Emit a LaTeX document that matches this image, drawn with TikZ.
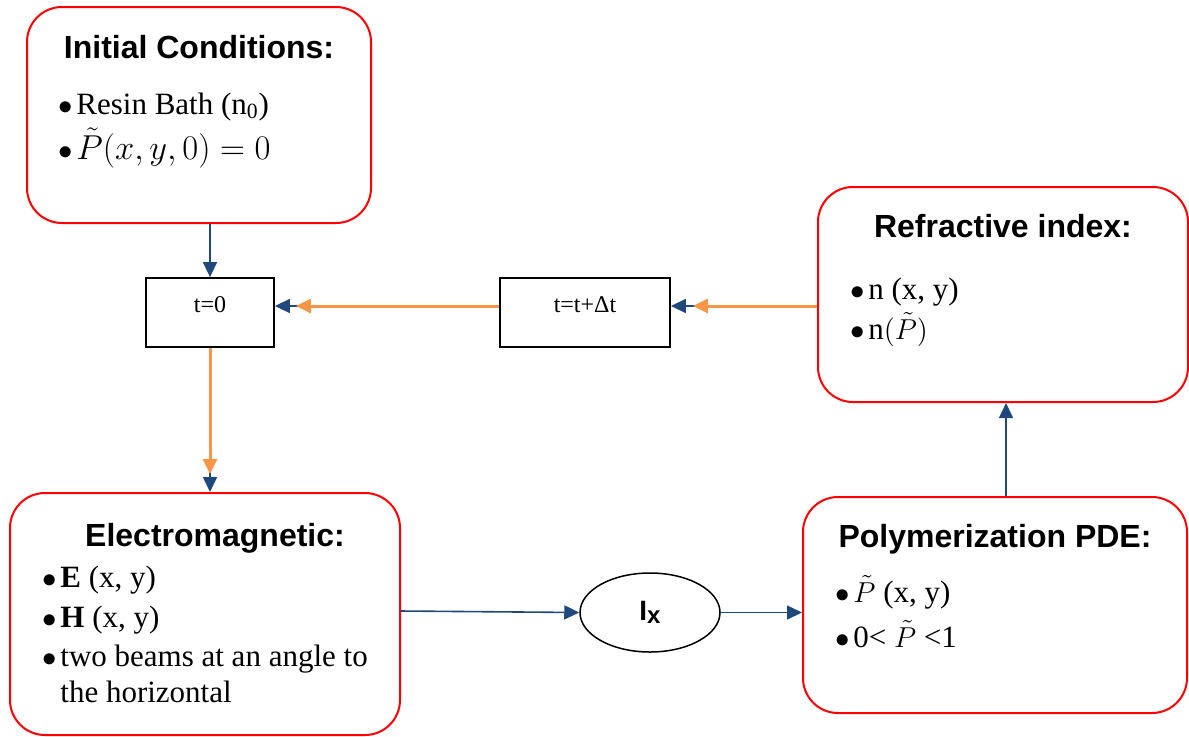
\documentclass[tikz,border=0pt]{standalone}
\usepackage{fontspec}
\setmainfont{Liberation Serif}
\newfontfamily\headfont{Liberation Sans}
\usetikzlibrary{arrows.meta,shapes.geometric,calc}
\definecolor{flowblue}{RGB}{31,73,125}
\definecolor{floworange}{RGB}{247,150,70}
\definecolor{boxred}{RGB}{255,0,0}
% bullet with a fixed-width slot so item texts line up
\newcommand\itembul{\makebox[9pt][l]{$\bullet$}}
% tilde-P whose accent does not enlarge the line box
\newcommand\Ptil{\smash{$\tilde{P}$}}

\begin{document}
\begin{tikzpicture}[x=0.5pt,y=-0.5pt,
  roundbox/.style={draw=boxred,line width=1pt,rounded corners=17.5pt,inner sep=0pt},
  stepbox/.style={draw=black,line width=0.9pt,inner sep=0pt},
  heading/.style={anchor=base,font=\headfont\bfseries\fontsize{16}{19}\selectfont,inner sep=0pt},
  item/.style={anchor=base west,font=\fontsize{15.5}{18}\selectfont,inner sep=0pt},
  steptext/.style={anchor=base,font=\fontsize{12}{14}\selectfont,inner sep=0pt},
  bluearrow/.style={draw=flowblue,line width=0.8pt,-{Triangle[length=7.5pt,width=7pt]}},
  orangearrow/.style={draw=floworange,line width=1.5pt,-{Triangle[length=7.5pt,width=7pt]}},
]
\useasboundingbox (0,0) rectangle (1189,736);

% --- main blocks ---
\node[roundbox,minimum width=172pt,minimum height=108pt] (init) at (199,115) {};
\node[roundbox,minimum width=185pt,minimum height=107.5pt] (refr) at (1003,294.5) {};
\node[roundbox,minimum width=192pt,minimum height=108pt] (poly) at (995,605) {};
\node[roundbox,minimum width=195pt,minimum height=121pt] (em) at (205,614) {};

% --- time stepping boxes ---
\node[stepbox,minimum width=64pt,minimum height=34.5pt] (tzero) at (210,312.5) {};
\node[stepbox,minimum width=85pt,minimum height=34.5pt] (tstep) at (585,312.5) {};
\node[steptext] (tzerolbl) at (210,312) {t=0};
\node[steptext] (tsteplbl) at (585,312) {t=t+Δt};

% --- intensity ---
\node[draw=black,line width=0.75pt,ellipse,minimum width=70pt,minimum height=39.5pt,inner sep=0pt,
      font=\headfont\bfseries\fontsize{14}{16}\selectfont] (ix) at (650,612.5)
      {I\raisebox{-1.7pt}{\fontsize{12}{12}\selectfont x}};

% --- headings ---
\node[heading] (inithead) at (199,58) {Initial Conditions:};
\node[heading] (refrhead) at (1003,237) {Refractive index:};
\node[heading] (polyhead) at (995,547) {Polymerization PDE:};
\node[heading] (emhead) at (215,546) {Electromagnetic:};

% --- bullet items ---
\node[item] (init1) at (58,114) {\itembul Resin Bath (n\textsubscript{0})};
\node[item] (init2) at (58,159) {\itembul\fontsize{17}{19}\selectfont\smash{$\tilde{P}(x,y,0)=0$}};

\node[item] (refr1) at (850,299) {\itembul n (x, y)};
\node[item] (refr2) at (850,339) {\itembul n\smash{$(\tilde{P})$}};

\node[item] (poly1) at (835,602) {\itembul \Ptil\ (x, y)};
\node[item] (poly2) at (835,647) {\itembul 0< \Ptil\ <1};

\node[item] (em1) at (42,587) {\itembul \textbf{E} (x, y)};
\node[item] (em2) at (42,627) {\itembul \textbf{H} (x, y)};
\node[item] (em3) at (42,666) {\itembul two beams at an angle to};
\node[item] (em4) at (60,702) {the horizontal};

% --- connectors ---
\coordinate (rowR) at ($(refr.west)+(0,11.5)$);
\coordinate (rowT) at ($(tstep.west)+(0,-6.5)$);
\coordinate (pup) at ($(poly.north)+(11,0)$);

\draw[bluearrow] (init.south -| tzero.north) -- (tzero.north);
\draw[bluearrow] (rowR) -- (rowR -| tstep.east);
\draw[bluearrow] (rowT) -- (rowT -| tzero.east);
\draw[bluearrow] (tzero.south) -- (tzero.south |- em.north);
\draw[bluearrow] ($(em.east)+(0,-3)$) -- (ix.west);
\draw[bluearrow] (ix.east) -- (ix.east -| poly.west);
\draw[bluearrow] (pup) -- (pup |- refr.south);

\draw[orangearrow,shorten >=11pt] (rowR) -- (rowR -| tstep.east);
\draw[orangearrow,shorten >=10.5pt] (rowT) -- (rowT -| tzero.east);
\draw[orangearrow,shorten >=9pt] (tzero.south) -- (tzero.south |- em.north);
\end{tikzpicture}
\end{document}
